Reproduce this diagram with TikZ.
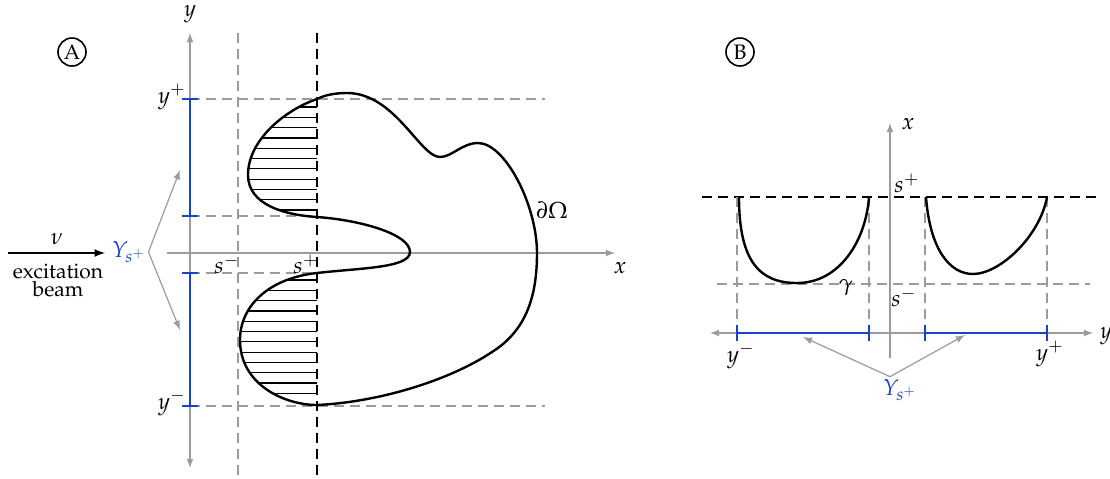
\documentclass[tikz,border=0pt]{standalone}
\usepackage[T1]{fontenc}
\usepackage{mathpazo}
\usepackage{xcolor}
\usetikzlibrary{arrows}
\usetikzlibrary{math}
\definecolor{myblue}{RGB}{25,65,205}
\definecolor{mygray}{RGB}{155,155,155}

% boundary of Omega (pixel units)
\newcommand{\bdry}{(317,99)
  .. controls (285,110) and (248,140) .. (248,175)
  .. controls (248,205) and (285,215) .. (317,217)
  .. controls (360,220) and (410,234) .. (410,252)
  .. controls (410,268) and (360,268) .. (317,273)
  .. controls (270,278) and (240,305) .. (240,340)
  .. controls (240,385) and (285,405) .. (317,405)
  .. controls (380,402) and (450,380) .. (492,352)
  .. controls (527,330) and (537,295) .. (537,253)
  .. controls (537,205) and (505,143) .. (478,143)
  .. controls (462,143) and (452,157) .. (440,157)
  .. controls (420,157) and (395,93) .. (347,93)
  .. controls (335,93) and (325,95) .. cycle}

\begin{document}
\begin{tikzpicture}[x=0.5pt,y=-0.5pt,font=\fontsize{11.5}{13}\selectfont,
  axis/.style={mygray,line width=0.6pt},
  guide/.style={mygray,line width=0.75pt,dash pattern=on 5pt off 3pt},
  cut/.style={black,line width=0.75pt,dash pattern=on 5pt off 3pt},
  interval/.style={myblue,line width=1.3pt},
  pointer/.style={mygray,line width=0.6pt,-latex},
  marker/.style={draw,circle,line width=0.8pt,inner sep=0.5pt,minimum size=14pt,font=\fontsize{10.5}{12}\selectfont}]
\tikzmath{
\sPlus=317;  % s^+
\sMinus=238; % s^-
\hStep=10.3; % hatch spacing
}
\useasboundingbox (0,0) rectangle (1110,478);

%%%%%%%%%% panel A
\node[marker] (markA) at (72,52) {A};

% guides
\draw[guide] (\sMinus,33) -- (\sMinus,478);
\draw[cut] (\sPlus,33) -- (\sPlus,478);
\draw[guide] (190,99) -- (545,99);
\draw[guide] (190,216) -- (\sPlus,216);
\draw[guide] (190,273) -- (\sPlus,273);
\draw[guide] (190,406) -- (545,406);

% axes
\coordinate (xAs) at (167,253);
\coordinate (xAe) at (615,253);
\coordinate (yAs) at (190,468);
\coordinate (yAe) at (190,33);
\draw[axis,-latex] (xAs) -- (xAe);
\draw[axis,latex-latex] (yAs) -- (yAe);
\node (labyA) at (190,14) {$y$};
\node (labxA) at (620,268) {$x$};

% hatching of the shadowed part
\begin{scope}
\clip \bdry;
\clip (200,60) rectangle (\sPlus,440);
\foreach \k in {0,...,10}
  \draw[line width=0.6pt] (200,107+\hStep*\k) -- (\sPlus,107+\hStep*\k);
\foreach \k in {0,...,11}
  \draw[line width=0.6pt] (200,280+\hStep*\k) -- (\sPlus,280+\hStep*\k);
\end{scope}

\draw[line width=1.2pt] \bdry;
\node (dOmega) at (552,210) {$\partial\Omega$};

% Y_{s^+}
\draw[interval] (190,99) -- (190,216);
\draw[interval] (182,99) -- (198,99);
\draw[interval] (182,216) -- (198,216);
\draw[interval] (190,273) -- (190,406);
\draw[interval] (182,273) -- (198,273);
\draw[interval] (182,406) -- (198,406);
\node (ypA) at (172,97) {$y^+$};
\node (ymA) at (172,403) {$y^-$};
\node (smA) at (227,264) {$s^-$};
\node (spA) at (306,264) {$s^+$};

\node[myblue,inner sep=1pt] (YA) at (129,252) {$Y_{s^+}$};
\coordinate (YAup) at (180,170);
\coordinate (YAdown) at (180,330);
\draw[pointer] (YA.east) -- (YAup);
\draw[pointer] (YA.east) -- (YAdown);

% beam
\coordinate (beamS) at (8,253);
\coordinate (beamE) at (105,253);
\draw[-latex,line width=0.8pt] (beamS) -- (beamE);
\node (nu) at (57,239) {$\nu$};
\node[align=center,inner sep=0pt,font=\fontsize{10.5}{9}\selectfont] (beam) at (58,280) {excitation\\beam};

%%%%%%%%%% panel B
\node[marker] (markB) at (740,52) {B};

\draw[cut] (702,197) -- (1100,197);
\draw[guide] (717,284) -- (1090,284);
\foreach \xx in {737,869,925,1047}
  \draw[guide] (\xx,197) -- (\xx,333);

\coordinate (xBs) at (890,358);
\coordinate (xBe) at (890,123);
\coordinate (yBs) at (710,333);
\coordinate (yBe) at (1093,333);
\draw[axis,-latex] (xBs) -- (xBe);
\draw[axis,latex-latex] (yBs) -- (yBe);
\node (labxB) at (908,124) {$x$};
\node (labyB) at (1106,336) {$y$};

% gamma
\draw[line width=1.2pt] (739,197) .. controls (739,262) and (760,283) .. (797,283)
  .. controls (840,283) and (866,240) .. (869,197);
\draw[line width=1.2pt] (926,197) .. controls (930,250) and (950,274) .. (973,274)
  .. controls (1000,274) and (1040,236) .. (1047,197);

\draw[interval] (737,333) -- (869,333);
\draw[interval] (737,325) -- (737,341);
\draw[interval] (869,325) -- (869,341);
\draw[interval] (925,333) -- (1047,333);
\draw[interval] (925,325) -- (925,341);
\draw[interval] (1047,325) -- (1047,341);

\node (spB) at (907,183) {$s^+$};
\node (smB) at (904,297) {$s^-$};
\node (gam) at (846,288) {$\gamma$};
\node (ymB) at (741,356) {$y^-$};
\node (ypB) at (1050,354) {$y^+$};

\node[myblue,inner sep=1pt] (YB) at (900,390) {$Y_{s^+}$};
\coordinate (YBl) at (803,337);
\coordinate (YBr) at (965,335);
\draw[pointer] ([xshift=-5pt]YB.north) -- (YBl);
\draw[pointer] ([xshift=-5pt]YB.north) -- (YBr);

\end{tikzpicture}
\end{document}
